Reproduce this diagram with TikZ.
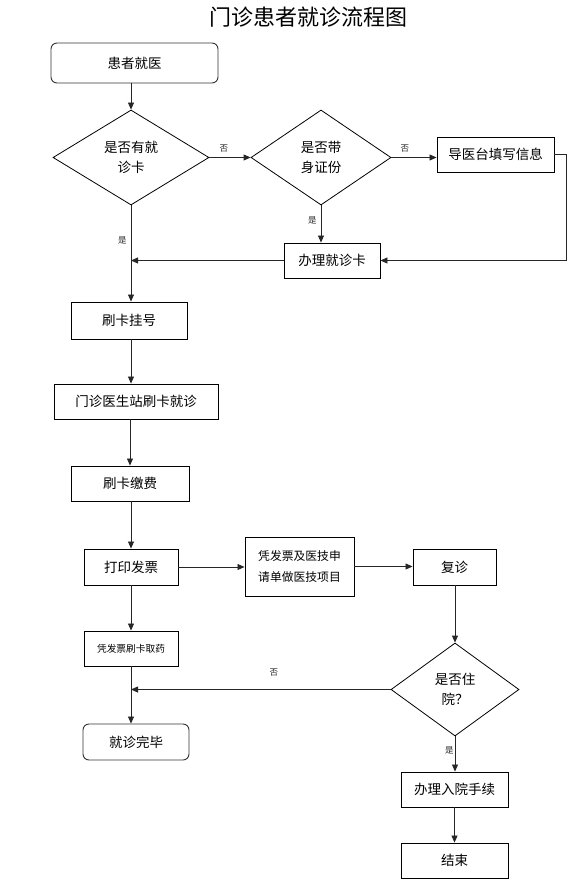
\documentclass[tikz,border=0pt]{standalone}
\usepackage{fontspec}
\setmainfont{Noto Sans CJK SC}
\usetikzlibrary{calc,positioning,shapes.geometric,arrows.meta}
\tikzset{
  box/.style={draw,line width=0.9pt,inner sep=0pt,font=\fontsize{13.5}{16}\selectfont,align=center},
  rbox/.style={box,rounded corners=6pt,draw=black!80},
  dec/.style={draw,diamond,line width=0.8pt,inner sep=0pt,font=\fontsize{13.5}{20}\selectfont,align=center},
  lbl/.style={inner sep=1pt,font=\fontsize{8.5}{9}\selectfont},
  arr/.style={line width=0.8pt,black!85,-{Triangle[length=7pt,width=6pt]}},
  ln/.style={line width=0.8pt,black!85}
}
\begin{document}
\begin{tikzpicture}[x=1pt,y=-1pt]
\useasboundingbox(0,0)rectangle(588,882);
\node[font=\fontsize{22}{24}\selectfont](title)at(308,17){门诊患者就诊流程图};
\node[rbox,minimum width=167,minimum height=40](s)at(134.5,63){患者就医};
\node[dec,minimum width=156,minimum height=95](d1)at(131,157.5){是否有就\\诊卡};
\node[dec,minimum width=140,minimum height=95](d2)at(321,157.5){是否带\\身证份};
\node[box,minimum width=117,minimum height=35](g)at(495.5,154.5){导医台填写信息};
\node[box,minimum width=96,minimum height=35](k)at(332,260.5){办理就诊卡};
\node[box,minimum width=116,minimum height=37](r1)at(129,320.5){刷卡挂号};
\node[box,minimum width=164,minimum height=35](r2)at(136,401.5){门诊医生站刷卡就诊};
\node[box,minimum width=118,minimum height=35](r3)at(130,483.5){刷卡缴费};
\node[box,minimum width=94,minimum height=36](r4)at(131,567){打印发票};
\node[box,minimum width=109,minimum height=59,font=\fontsize{11.8}{21}\selectfont](t)at(299.5,566.5){凭发票及医技申\\请单做医技项目};
\node[box,minimum width=83,minimum height=36](f)at(454.5,567){复诊};
\node[box,minimum width=94,minimum height=35,font=\fontsize{9.7}{11}\selectfont](m)at(131,648.5){凭发票刷卡取药};
\node[rbox,minimum width=106,minimum height=36](e)at(136,742){就诊完毕};
\node[dec,minimum width=128,minimum height=93](d3)at(455,689.5){是否住\\院？};
\node[box,minimum width=107,minimum height=35](h)at(454.5,789.5){办理入院手续};
\node[box,minimum width=107,minimum height=35](z)at(454.5,860.5){结束};
% registration
\draw[arr](d1.north|-s.south)--(d1.north);
\draw[arr](d1.east)--node[lbl,above=4pt,pos=.35]{否}(d2.west);
\draw[arr](d2.east)--node[lbl,above=4pt,pos=.3]{否}(d2.east-|g.west);
\draw[arr](d2.south)--node[lbl,left=3pt,pos=.4]{是}(d2.south|-k.north);
\draw[arr](g.east)--++(12,0)|-(k.east);
\draw[arr](k.west)--(k.west-|d1.south);
\draw[arr](d1.south)--node[lbl,left=3pt,pos=.36]{是}(d1.south|-r1.north);
% visit
\draw[arr](r1.south-|d1.south)--(r2.north-|d1.south);
\draw[arr](r2.south-|r3.north)--(r3.north);
\draw[arr](r3.south-|r4.north)--(r4.north);
\draw[arr](r4.east)--(r4.east-|t.west);
\draw[arr](t.east)--(t.east-|f.west);
\draw[arr](f.south-|d3.north)--(d3.north);
\draw[arr](r4.south)--(m.north);
\draw[arr](m.south)--(m.south|-e.north);
\draw[arr](d3.west)--node[lbl,above=12pt,pos=.45]{否}(d3.west-|m.south);
\draw[arr](d3.south)--node[lbl,left=0pt,pos=.4]{是}(d3.south|-h.north);
\draw[arr](h.south)--(z.north);
\end{tikzpicture}
\end{document}
